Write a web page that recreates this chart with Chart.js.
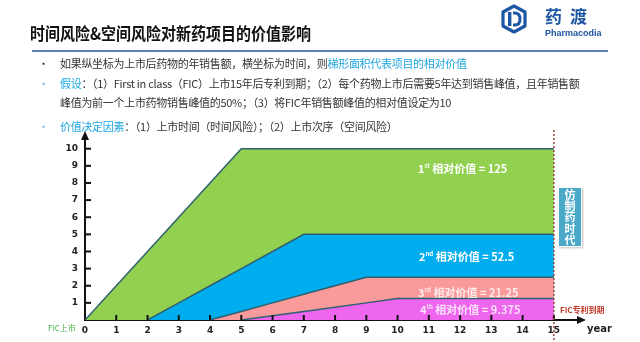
<!DOCTYPE html>
<html>
<head>
<meta charset="utf-8">
<script src="https://cdn.jsdelivr.net/npm/chart.js@4.4.1/dist/chart.umd.min.js"></script>
<style>
  body { margin: 0; width: 640px; height: 342px; background: #fff; overflow: hidden; font-family: "Noto Sans CJK SC", "Noto Sans", sans-serif; }
  #wrap { position: relative; width: 640px; height: 342px; }
  #myChart { position: absolute; left: 0; top: 0; }
  .abs { position: absolute; white-space: nowrap; }
  .title { left: 30px; top: 20px; font-size: 15px; font-weight: bold; color: #111; transform: scale(1, 1.15); transform-origin: left top; }
  .rule { left: 32px; top: 50px; width: 576px; height: 2px; background: #5b7fb5; }
  .bul { font-size: 11px; color: #333; letter-spacing: -0.3px; }
  .dot { font-size: 11px; color: #333; }
  .hl { color: #1ea6e0; }
  .area-lbl { font-size: 11px; font-weight: bold; color: #fff; }
  .area-lbl sup { font-size: 6px; vertical-align: 5px; }
  .dim { color: rgba(255,255,255,0.8); }
  .era { left: 558px; top: 187px; width: 24px; height: 60px; background: #4aa9c9; border: 1px solid #fff;
         box-shadow: 1px 1px 2px rgba(0,0,0,0.25); box-sizing: border-box; }
  .era span { position: absolute; left: 5px; top: 1px; writing-mode: vertical-rl; text-orientation: upright;
              color: #fff; font-size: 11px; font-weight: bold; letter-spacing: 0.3px; line-height: 12px; }
</style>
</head>
<body>
<div id="wrap">
  <canvas id="myChart" width="640" height="342"></canvas>

  <div class="abs title">时间风险&amp;空间风险对新药项目的价值影响</div>
  <div class="abs rule"></div>

  <!-- logo -->
  <svg class="abs" style="left:499px;top:4px" width="30" height="30" viewBox="0 0 30 30">
    <path d="M15 2 L26 8 L26 22 L15 28 L4 22 L4 8 Z" fill="none" stroke="#1d56a3" stroke-width="3.2" stroke-linejoin="round"/>
    <rect x="9" y="8" width="3.4" height="14" fill="#1d56a3"/>
    <path d="M14 9 L16 9 Q21 9 21 15 Q21 21 16 21 L14 21" fill="none" stroke="#1d56a3" stroke-width="3"/>
  </svg>
  <div class="abs" style="left:545px;top:3px;font-size:17px;font-weight:bold;color:#1d56a3;letter-spacing:8px">药渡</div>
  <div class="abs" style="left:545px;top:28px;font-size:9px;font-weight:bold;color:#1d56a3;font-family:'Liberation Sans',sans-serif">Pharmacodia</div>

  <div class="abs dot" style="left:38px;top:55px">•</div>
  <div class="abs bul" style="left:60px;top:55px">如果纵坐标为上市后药物的年销售额，横坐标为时间，则<span class="hl">梯形面积代表项目的相对价值</span></div>

  <div class="abs dot" style="left:38px;top:75px;color:#7fb3cf">•</div>
  <div class="abs bul" style="left:60px;top:75px"><span class="hl">假设</span>：（1）First in class（FIC）上市15年后专利到期；（2）每个药物上市后需要5年达到销售峰值，且年销售额</div>
  <div class="abs bul" style="left:60px;top:94px">峰值为前一个上市药物销售峰值的50%；（3）将FIC年销售额峰值的相对值设定为10</div>

  <div class="abs dot" style="left:38px;top:118px;color:#7fb3cf">•</div>
  <div class="abs bul" style="left:60px;top:118px"><span class="hl">价值决定因素</span>：（1）上市时间（时间风险）；（2）上市次序（空间风险）</div>

  <div class="abs area-lbl" style="left:418px;top:160px">1<sup>st</sup> 相对价值 = 125</div>
  <div class="abs area-lbl" style="left:419px;top:248px">2<sup>nd</sup> 相对价值 = 52.5</div>
  <div class="abs area-lbl dim" style="left:418px;top:284px">3<sup>rd</sup> 相对价值 = 21.25</div>
  <div class="abs area-lbl dim" style="left:420px;top:301px">4<sup>th</sup> 相对价值 = 9.375</div>

  <div class="abs era"><span>仿制药时代</span></div>

  <div class="abs" style="left:48px;top:322px;font-size:8px;color:#4cae4c">FIC上市</div>
  <div class="abs" style="left:560px;top:304px;font-size:8px;color:#c0392b;font-weight:bold">FIC专利到期</div>
  <div class="abs" style="left:587px;top:323px;font-size:10px;font-weight:bold;color:#222;font-family:'DejaVu Sans',sans-serif">year</div>
</div>

<script>
// years since FIC launch
const years = [0, 1, 2, 3, 4, 5, 6, 7, 8, 9, 10, 11, 12, 13, 14, 15];
const yTicks = [1, 2, 3, 4, 5, 6, 7, 8, 9, 10];

// annual sales of each drug (FIC peak = 10)
const first  = [0, 2, 4, 6, 8, 10, 10, 10, 10, 10, 10, 10, 10, 10, 10, 10];
const second = [null, null, 0, 1, 2, 3, 4, 5, 5, 5, 5, 5, 5, 5, 5, 5];
const third  = [null, null, null, null, 0, 0.5, 1, 1.5, 2, 2.5, 2.5, 2.5, 2.5, 2.5, 2.5, 2.5];
const fourth = [null, null, null, null, null, 0, 0.25, 0.5, 0.75, 1, 1.25, 1.25, 1.25, 1.25, 1.25, 1.25];

const lineColor = '#2e6170';

function series(values, color, order) {
    return {
        data: years.map((x, i) => ({ x: x, y: values[i] })),
        backgroundColor: color,
        borderColor: lineColor,
        borderWidth: 1.5,
        pointRadius: 0,
        fill: 'origin',
        tension: 0,
        order: order
    };
}

// arrows, small tick marks and the patent expiry line
const decor = {
    id: 'decor',
    afterDraw(chart) {
        const ctx = chart.ctx;
        const xs = chart.scales.x, ys = chart.scales.y;
        const left = xs.left, bottom = ys.bottom, top = ys.top, right = xs.right;
        ctx.save();
        ctx.strokeStyle = '#111';
        ctx.fillStyle = '#111';
        ctx.lineWidth = 2;
        years.forEach(v => {
            if (v === 0) return;
            const px = xs.getPixelForValue(v);
            ctx.beginPath(); ctx.moveTo(px, bottom); ctx.lineTo(px, bottom - 5); ctx.stroke();
        });
        yTicks.forEach(v => {
            const py = ys.getPixelForValue(v);
            ctx.beginPath(); ctx.moveTo(left, py); ctx.lineTo(left + 6, py); ctx.stroke();
        });
        // arrow heads
        ctx.beginPath(); ctx.moveTo(left, top - 4); ctx.lineTo(left - 4, top + 5); ctx.lineTo(left + 4, top + 5); ctx.closePath(); ctx.fill();
        ctx.beginPath(); ctx.moveTo(right + 4, bottom); ctx.lineTo(right - 5, bottom - 4); ctx.lineTo(right - 5, bottom + 4); ctx.closePath(); ctx.fill();
        // FIC patent expiry
        const ex = xs.getPixelForValue(15);
        ctx.strokeStyle = '#9c4a4a';
        ctx.lineWidth = 1.5;
        ctx.setLineDash([2, 2]);
        ctx.beginPath(); ctx.moveTo(ex, top - 5); ctx.lineTo(ex, 342); ctx.stroke();
        ctx.restore();
    }
};

const tickFont = { family: 'DejaVu Sans', size: 9, weight: 'bold' };

const config = {
    type: 'line',
    data: {
        datasets: [
            series(first, '#92d050', 4),
            series(second, '#00aeef', 3),
            series(third, '#fa9a9a', 2),
            series(fourth, '#ee66ee', 1)
        ]
    },
    options: {
        responsive: false,
        animation: false,
        layout: { padding: { left: 0, right: 58, top: 135, bottom: 0 } },
        plugins: { legend: { display: false }, tooltip: { enabled: false } },
        scales: {
            x: {
                type: 'linear',
                min: 0,
                max: 15.9,
                afterBuildTicks: s => { s.ticks = years.map(v => ({ value: v })); },
                afterFit: s => { s.height = 22; },
                grid: { display: false, drawTicks: false },
                border: { color: '#111', width: 2 },
                ticks: { color: '#222', font: tickFont, padding: 5, maxRotation: 0, autoSkip: false }
            },
            y: {
                min: 0,
                max: 10.8,
                afterBuildTicks: s => { s.ticks = yTicks.map(v => ({ value: v })); },
                afterFit: s => { s.width = 85; },
                grid: { display: false, drawTicks: false },
                border: { color: '#111', width: 2 },
                ticks: { color: '#222', font: tickFont, padding: 7 }
            }
        }
    },
    plugins: [decor]
};

new Chart(document.getElementById('myChart'), config);
</script>
</body>
</html>
